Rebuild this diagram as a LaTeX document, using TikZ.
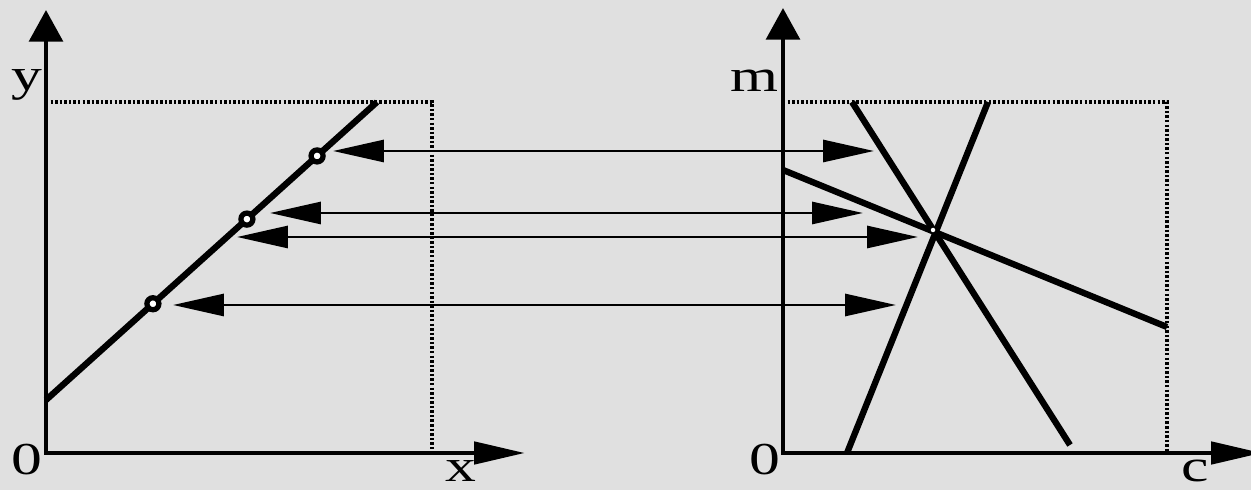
\documentclass[tikz,border=0pt]{standalone}
\usepackage{fontspec}
\newfontfamily\lblfont[FakeStretch=1.35]{Liberation Serif}
\usetikzlibrary{arrows.meta}
\definecolor{marble}{HTML}{E0E0E0}

\begin{document}
\begin{tikzpicture}[x=0.02cm,y=0.02cm,
  axis/.style={line width=2.8pt,draw=black,line cap=rect},
  bigtip/.style={-{Triangle[length=18pt,width=19pt]}},
  slimtip/.style={-{Triangle[length=29pt,width=12.5pt]}},
  guide/.style={line width=1.9pt,dash pattern=on 1.4pt off 1.2pt},
  heavy/.style={line width=3.6pt},
  link/.style={{Triangle[length=29pt,width=12.5pt]}-{Triangle[length=29pt,width=12.5pt]},line width=1.7pt},
  ptmark/.style={circle,draw,line width=3pt,fill=white,minimum size=0.24cm,inner sep=0pt},
  crossmark/.style={circle,fill=white,minimum size=0.09cm,inner sep=0pt},
  lbl/.style={font=\lblfont\fontsize{26}{26}\selectfont,inner sep=0pt,anchor=base}
]
\fill[marble] (0,0) rectangle (1251,490);
\useasboundingbox (0,0) rectangle (1251,490);

\coordinate (o1) at (46,37);
\coordinate (ytip) at (46,480);
\coordinate (xtip) at (525,37);
\coordinate (o2) at (783,37);
\coordinate (mtip) at (783,482);
\coordinate (ctip) at (1262,37);

\draw[guide] (46,388) -- (432,388) -- (432,37);
\draw[guide] (783,388) -- (1167,388) -- (1167,37);

\draw[axis,bigtip] (o1) -- (ytip);
\draw[axis,slimtip] (o1) -- (xtip);
\draw[axis,bigtip] (o2) -- (mtip);
\draw[axis,slimtip] (o2) -- (ctip);

\coordinate (ln0) at (46,90);
\coordinate (ln1) at (377,388);
\draw[heavy] (ln0) -- (ln1)
  node[ptmark,pos=0.323] (pt3) {}
  node[ptmark,pos=0.607] (pt2) {}
  node[ptmark,pos=0.819] (pt1) {};

\coordinate (la0) at (852,388);
\coordinate (la1) at (1070,45);
\coordinate (lb0) at (988,388);
\coordinate (lb1) at (847,37);
\coordinate (lc0) at (783,320);
\coordinate (lc1) at (1167,163);
\draw[heavy] (la0) -- (la1);
\draw[heavy] (lb0) -- (lb1);
\draw[heavy] (lc0) -- (lc1);
\node[crossmark] (ix) at (933,260) {};

\coordinate (r1l) at (333,339);
\coordinate (r1r) at (874,339);
\coordinate (r2l) at (270,277);
\coordinate (r2r) at (863,277);
\coordinate (r3l) at (237,253);
\coordinate (r3r) at (918,253);
\coordinate (r4l) at (173,185);
\coordinate (r4r) at (896,185);
\draw[link] (r1l) -- (r1r);
\draw[link] (r2l) -- (r2r);
\draw[link] (r3l) -- (r3r);
\draw[link] (r4l) -- (r4r);

\node[lbl] (ylbl) at (27,399) {y};
\node[lbl] (mlbl) at (754,398) {m};
\node[lbl] (zero1) at (27,15) {0};
\node[lbl] (zero2) at (765,15) {0};
\node[lbl] (xlbl) at (461,8) {x};
\node[lbl] (clbl) at (1195,8) {c};
\end{tikzpicture}
\end{document}
